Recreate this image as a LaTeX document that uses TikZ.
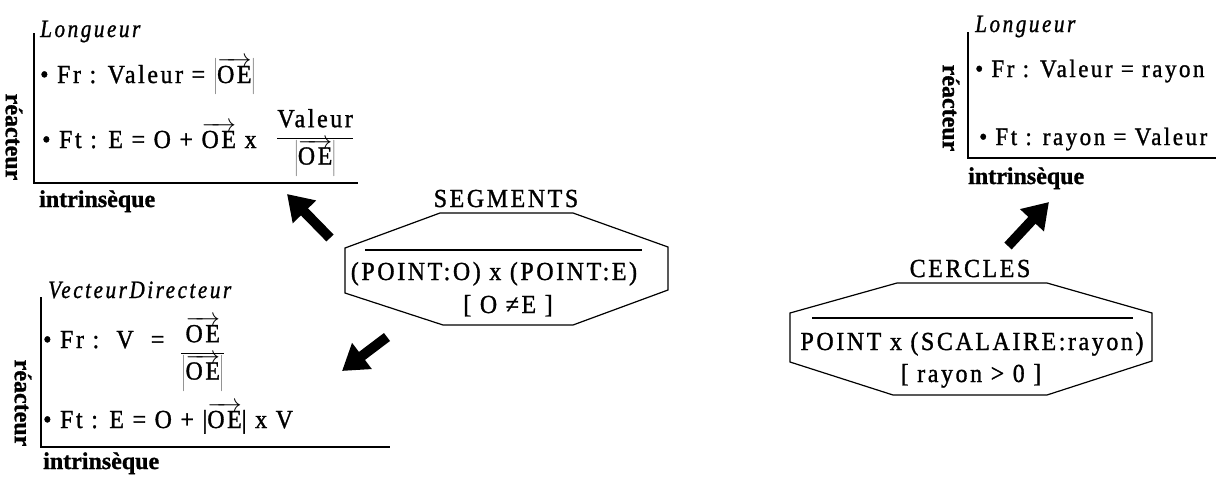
\documentclass[tikz,border=0pt]{standalone}
\usepackage{fontspec}
\usetikzlibrary{arrows.meta}
\newfontfamily\tfont{Liberation Serif}[FakeStretch=0.92,LetterSpace=10,FakeBold=1.2]
\newfontfamily\itfont{Liberation Serif}[FakeStretch=0.85,LetterSpace=10,FakeBold=1.0]
\newfontfamily\lfont{Liberation Serif}[FakeBold=1.2]
\newcommand{\vOE}{\ensuremath{\overrightarrow{\hbox{OE}}}}
\begin{document}
\begin{tikzpicture}[x=1pt,y=-1pt,
  txt/.style={anchor=base west, inner sep=0pt, font=\tfont\fontsize{26}{30}\selectfont},
  txtr/.style={anchor=base west, inner sep=0pt, font=\tfont\fontsize{25}{30}\selectfont},
  ital/.style={txt, font=\itfont\itshape\fontsize{25}{30}\selectfont},
  lbl/.style={anchor=base west, inner sep=0pt, font=\lfont\bfseries\fontsize{24}{28}\selectfont},
  vlbl/.style={inner sep=0pt, rotate=-90, font=\lfont\bfseries\fontsize{24}{28}\selectfont},
  axis/.style={line width=1.6pt},
  hexa/.style={line width=1.2pt, line join=miter},
  bigarrow/.style={line width=10pt, -{Triangle[length=25pt,width=31pt]}}]
\useasboundingbox (0,0) rectangle (1216,477);

% ---------- top-left panel ----------
\node[ital] (l1) at (40,37) {Longueur};
\draw[axis] (34,33) -- (34,183) -- (358,183);
\node[vlbl] (r1) at (14,137) {réacteur};
\node[txt] (a1) at (40,83) {• Fr : Valeur = $\left|\vOE\right|$};
\node[txt] (a2) at (42,148) {• Ft : E = O + \vOE\ x};
\node[txt] (a3) at (276,144) {$\displaystyle\frac{\hbox{Valeur}}{\left|\vOE\right|}$};
\node[lbl] (i1) at (39,207) {intrinsèque};

% ---------- bottom-left panel ----------
\node[ital] (l2) at (48,298) {VecteurDirecteur};
\draw[axis] (41,297) -- (41,447) -- (390,447);
\node[vlbl] (r2) at (23,403) {réacteur};
\node[txt] (b1) at (43,348) {• Fr :\ \ V\ \ =};
\node[txt] (b2) at (180,359) {$\displaystyle\frac{\,\vOE\,}{\left|\vOE\right|}$};
\node[txt] (b3) at (43,428) {• Ft : E = O + |\vOE| x V};
\node[lbl] (i2) at (43,469) {intrinsèque};

% ---------- right panel ----------
\node[ital] (l3) at (975,32) {Longueur};
\draw[axis] (968,32) -- (968,158) -- (1216,158);
\node[vlbl] (r3) at (951,108) {réacteur};
\node[txtr] (c1) at (975,77) {• Fr : Valeur = rayon};
\node[txtr] (c2) at (979,145) {• Ft : rayon = Valeur};
\node[lbl] (i3) at (968,184) {intrinsèque};

% ---------- SEGMENTS ----------
\node[txt, anchor=base] (seg) at (506,207) {SEGMENTS};
\draw[hexa] (440,213) -- (573,213) -- (668,247) -- (668,290) -- (573,325)
  -- (443,325) -- (345,293) -- (345,248) -- cycle;
\draw[line width=1.1pt] (365,250) -- (642,250);
\node[txt, anchor=base] (s1) at (494,280) {(POINT:O) x (POINT:E)};
\node[txt, anchor=base] (s2) at (508,313) {[ O ≠E ]};

% ---------- CERCLES ----------
\node[txt, anchor=base] (cer) at (970,277) {CERCLES};
\draw[hexa] (897,283) -- (1047,283) -- (1152,313) -- (1152,361) -- (1047,395)
  -- (893,395) -- (790,362) -- (790,313) -- cycle;
\draw[line width=1.1pt] (812,318) -- (1133,318);
\node[txt, anchor=base] (c3) at (972,350) {POINT x (SCALAIRE:rayon)};
\node[txt, anchor=base] (c4) at (971,382) {[ rayon > 0 ]};

% ---------- arrows ----------
\coordinate (t1) at (330,238); \coordinate (h1) at (287,194);
\coordinate (t2) at (387,337); \coordinate (h2) at (342,371);
\coordinate (t3) at (1008,246); \coordinate (h3) at (1049,202);
\draw[bigarrow] (t1) -- (h1);
\draw[bigarrow] (t2) -- (h2);
\draw[bigarrow] (t3) -- (h3);
\end{tikzpicture}
\end{document}
